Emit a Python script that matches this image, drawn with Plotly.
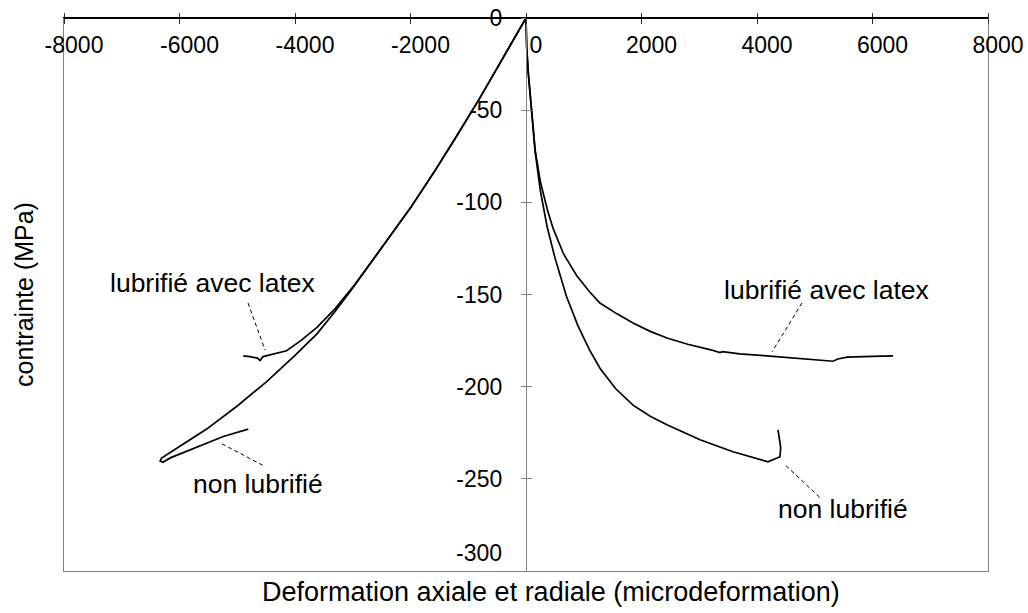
import plotly.graph_objects as go

# ---------------- data ----------------
x_tick_vals = [-8000, -6000, -4000, -2000, 0, 2000, 4000, 6000, 8000]
y_tick_vals = [0, -50, -100, -150, -200, -250, -300]

# axial strain (positive side), lubricated with latex
axial_latex_x = [0, 5, 12, 40, 100, 160, 250, 370, 468, 650, 883, 1100, 1280, 1576, 1853, 2150,
                 2441, 2800, 3200, 3359, 3400, 3700, 4173, 4700, 5150, 5316, 5400, 5558, 6000, 6355]
axial_latex_y = [0, -8, -16, -30, -51, -72, -89, -104, -114, -128, -140, -148.5, -154.6, -160.5, -165.4, -170,
                 -173.6, -177, -180, -181.5, -181, -182.2, -183.3, -184.8, -186, -186.2, -185, -184, -183.6, -183.3]

# axial strain, non lubricated
axial_nonlub_x = [0, 5, 12, 40, 100, 156, 250, 364, 500, 700, 900, 1100, 1281, 1550, 1853, 2150,
                  2441, 3013, 3584, 4190, 4398, 4410, 4398, 4364]
axial_nonlub_y = [0, -8, -16, -30, -51, -72, -94, -113, -130, -151, -167, -180, -190, -201, -210, -216,
                  -220.7, -228.8, -235.3, -240.8, -238, -233, -230.5, -223.4]

# radial strain (negative side), lubricated with latex
radial_latex_x = [0, -400, -800, -1200, -1600, -2000, -2400, -2800, -3000, -3300, -3624, -3900,
                  -4145, -4400, -4554, -4607, -4650, -4780, -4895]
radial_latex_y = [0, -22, -43.5, -64, -84, -103, -120.5, -137.5, -146, -157.5, -168, -175,
                  -180.5, -182.5, -183.7, -185.8, -184.5, -183.7, -183.3]

# radial strain, non lubricated
radial_nonlub_x = [0, -400, -800, -1200, -1600, -2000, -2400, -2800, -3000, -3300, -3624, -4000,
                   -4202, -4500, -5000, -5530, -6000, -6310, -6335, -6290, -6150, -5700, -5242, -4809]
radial_nonlub_y = [0, -22, -43.5, -64, -84, -103, -120.5, -137.5, -146.5, -159, -171.5, -183,
                   -189, -197.5, -210.5, -223, -232.5, -238.7, -240.4, -241, -238.5, -233, -227, -223]

series = [
    (axial_latex_x, axial_latex_y, "axiale - lubrifié avec latex"),
    (axial_nonlub_x, axial_nonlub_y, "axiale - non lubrifié"),
    (radial_latex_x, radial_latex_y, "radiale - lubrifié avec latex"),
    (radial_nonlub_x, radial_nonlub_y, "radiale - non lubrifié"),
]

FONT = "Arial, Liberation Sans, sans-serif"
GRAY = "#808080"

fig = go.Figure()
for xs, ys, name in series:
    fig.add_trace(go.Scatter(x=xs, y=ys, mode="lines", name=name,
                             line=dict(color="black", width=1.7), showlegend=False,
                             xaxis="x", yaxis="y"))

# empty helper traces so that the overlay axes (frame, cross ticks) are drawn
for xa, ya in [("x2", "y3"), ("x3", "y2")]:
    fig.add_trace(go.Scatter(x=[None], y=[None], mode="lines", xaxis=xa, yaxis=ya,
                             showlegend=False, hoverinfo="skip"))

x_range = [-8000, 8000]
y_range = [-300, 0]

fig.update_layout(
    width=1028, height=613,
    margin=dict(l=64, r=40, t=18, b=42, autoexpand=False),
    paper_bgcolor="white", plot_bgcolor="white",
    font=dict(family=FONT, color="black"),
    showlegend=False,
    # bottom x axis: frame line only
    xaxis=dict(domain=[0, 1], range=x_range, anchor="y3", side="bottom", automargin=False,
               showline=True, linecolor=GRAY, linewidth=1, ticks="", showticklabels=False,
               showgrid=False, zeroline=False),
    # x axis at y = 0 (top): downward ticks and labels below the line
    xaxis2=dict(overlaying="x", range=x_range, anchor="free", position=1, side="bottom",
                automargin=False,
                showline=True, linecolor="black", linewidth=1,
                ticks="outside", ticklen=5, tickcolor="#333333", tickwidth=1,
                tickmode="array", tickvals=x_tick_vals, ticktext=[str(v) for v in x_tick_vals],
                ticklabelstandoff=1, ticklabelshift=10,
                tickfont=dict(size=23, family=FONT, color="black"),
                showgrid=False, zeroline=False),
    # upward half of the cross ticks
    xaxis3=dict(overlaying="x", range=x_range, anchor="y3", side="top", automargin=False,
                showline=True, linecolor="black", linewidth=1,
                ticks="outside", ticklen=4, tickcolor="#333333", tickwidth=1,
                tickmode="array", tickvals=x_tick_vals, showticklabels=False,
                showgrid=False, zeroline=False),
    # main y axis crossing at x = 0
    yaxis=dict(domain=[0, 1], range=y_range, anchor="free", position=0.5, side="left",
               automargin=False,
               showline=True, linecolor=GRAY, linewidth=1,
               ticks="outside", ticklen=5, tickcolor=GRAY, tickwidth=1,
               tickmode="array", tickvals=y_tick_vals,
               ticktext=[str(v) if v != -300 else "" for v in y_tick_vals],
               ticklabelstandoff=14,
               tickfont=dict(size=23, family=FONT, color="black"),
               showgrid=False, zeroline=False),
    yaxis2=dict(overlaying="y", range=y_range, anchor="free", position=0.5, side="left",
                automargin=False,
                showline=False, ticks="inside", ticklen=5, tickcolor=GRAY, tickwidth=1,
                tickmode="array", tickvals=y_tick_vals, showticklabels=False,
                showgrid=False, zeroline=False),
    # frame (left / right) and y title
    yaxis3=dict(overlaying="y", range=y_range, anchor="x", side="left", automargin=False,
                showline=True, mirror=True, linecolor=GRAY, linewidth=1,
                ticks="", showticklabels=False, showgrid=False, zeroline=False,
                title=dict(text="contrainte (MPa)", font=dict(size=25, family=FONT, color="black"),
                           standoff=22)),
)

# last y tick label, drawn raised as in the original
fig.add_annotation(x=0, y=-300, xref="x", yref="y", text="-300", showarrow=False,
                   xanchor="right", yanchor="middle", xshift=-22, yshift=18,
                   font=dict(size=23, family=FONT, color="black"))

# x axis title
fig.add_annotation(x=0.527, y=-0.038, xref="paper", yref="paper",
                   text="Deformation axiale et radiale (microdeformation)", showarrow=False,
                   xanchor="center", yanchor="middle",
                   font=dict(size=27, family=FONT, color="black"))

# curve labels
labels = [
    ("lubrifié avec latex", -5437, -143.8),
    ("non lubrifié", -4649, -252.6),
    ("lubrifié avec latex", 5195, -147.6),
    ("non lubrifié", 5489, -266.2),
]
for txt, lx, ly in labels:
    fig.add_annotation(x=lx, y=ly, xref="x", yref="y", text=txt, showarrow=False,
                       xanchor="center", yanchor="middle",
                       font=dict(size=26.5, family=FONT, color="black"))

# dashed leader lines
leaders = [
    (-4814, -154.6, -4519, -180.1),
    (-5264, -231.0, -4520, -243.3),
    (4779, -154.6, 4260, -181.1),
    (4502, -242.9, 5091, -260.2),
]
for x0, y0, x1, y1 in leaders:
    fig.add_shape(type="line", xref="x", yref="y", x0=x0, y0=y0, x1=x1, y1=y1,
                  line=dict(color="black", width=1, dash="4px,3px"))

fig.write_html("out.html", config={"displayModeBar": False},
               post_script="document.body.style.margin='0';")
